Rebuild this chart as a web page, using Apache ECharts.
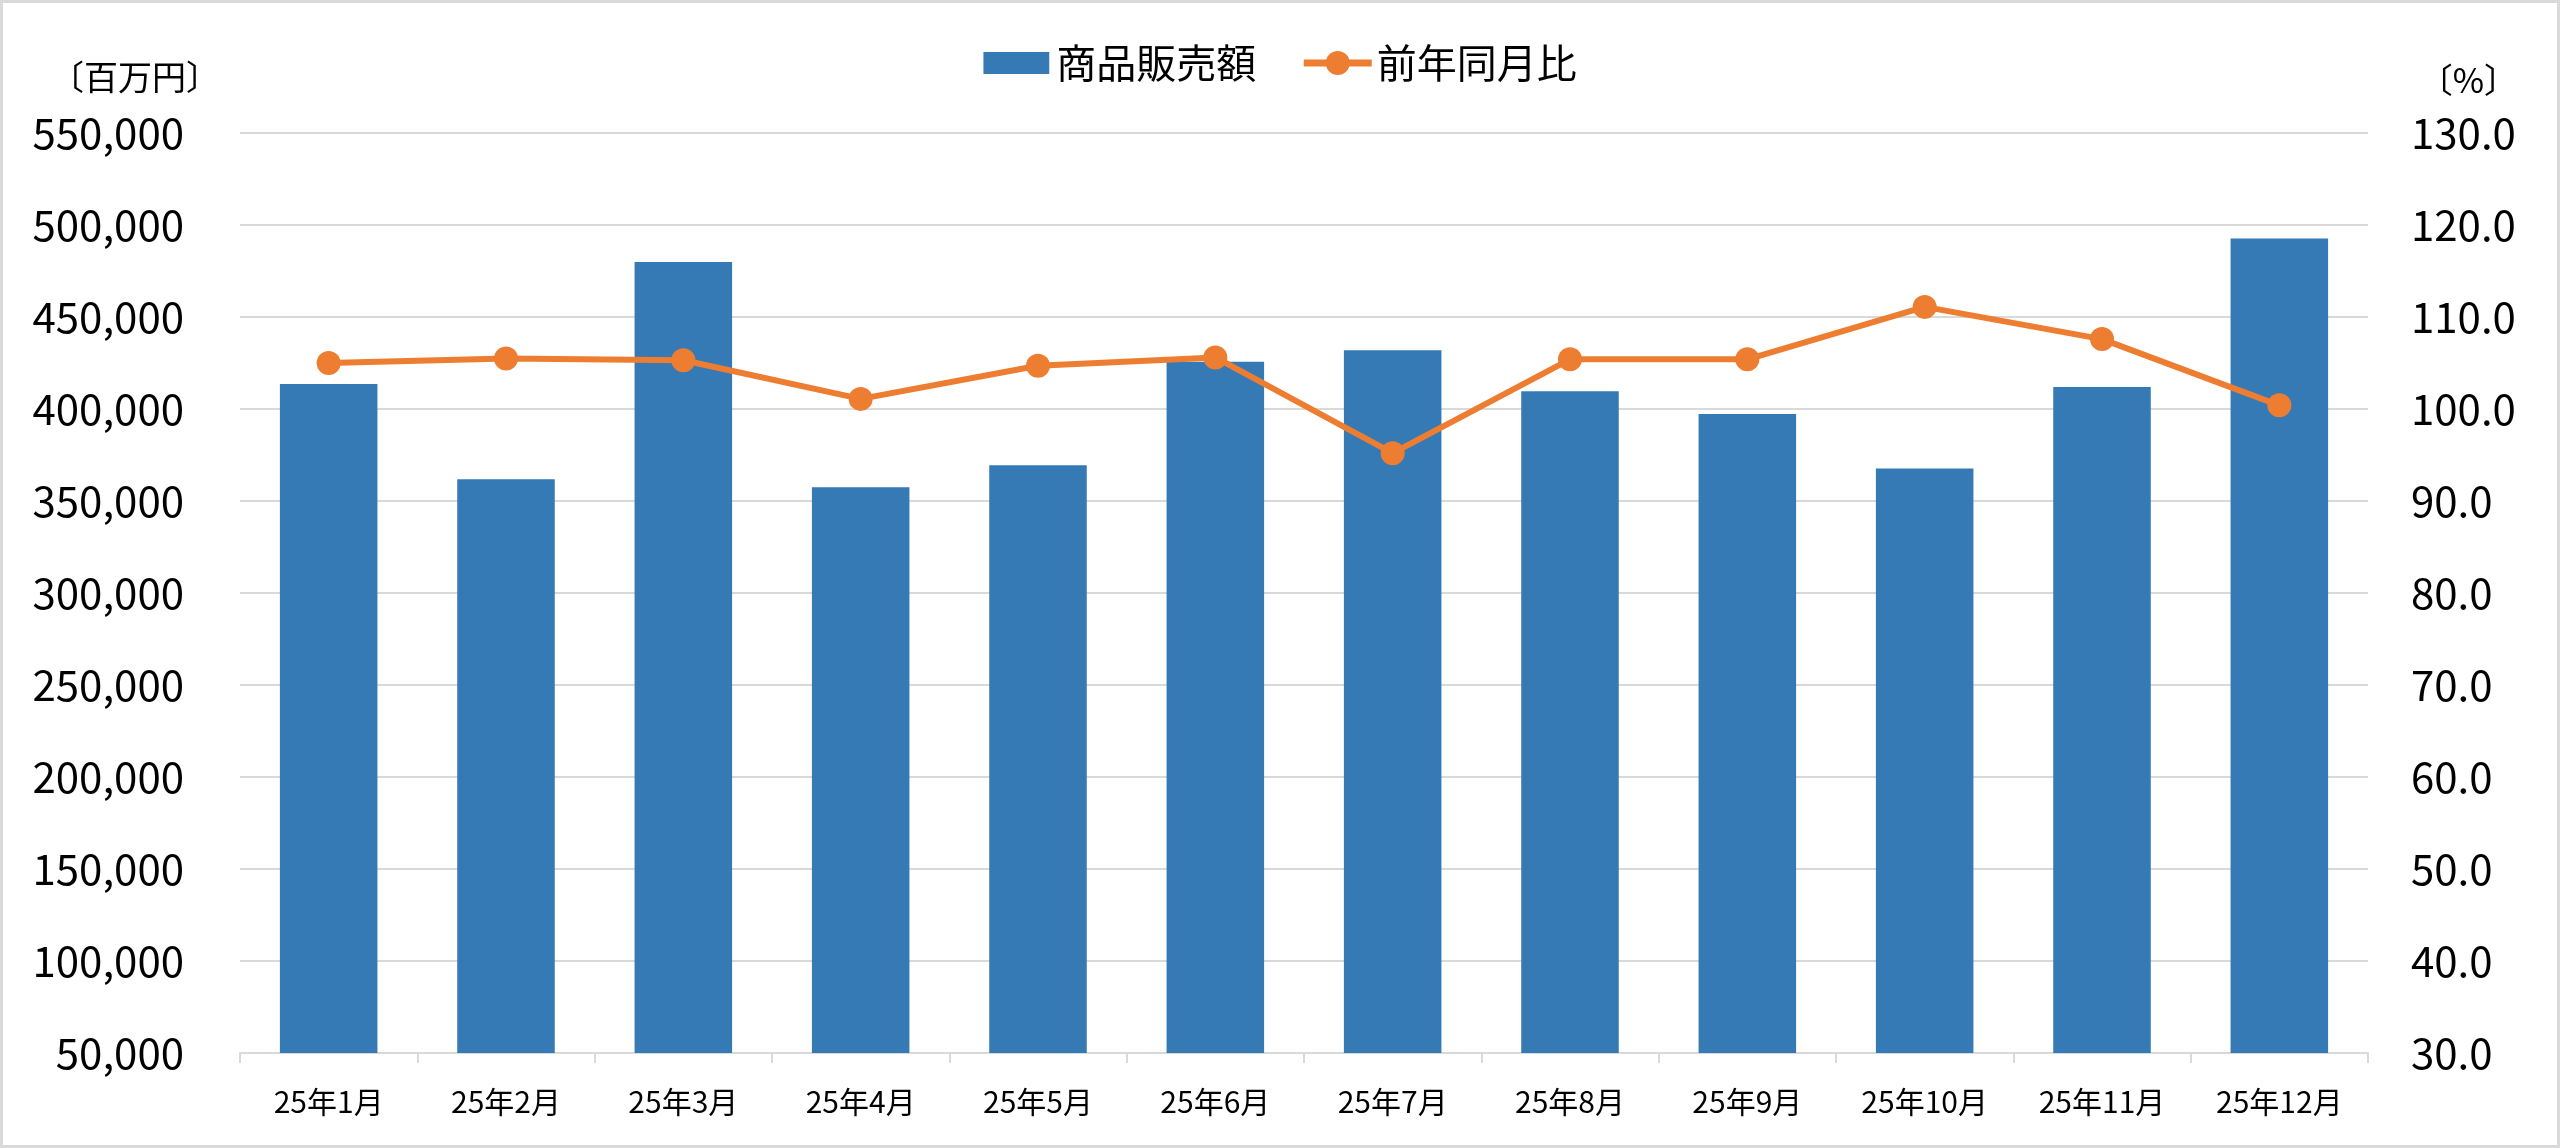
<!DOCTYPE html>
<html>
<head>
<meta charset="utf-8">
<script src="https://cdn.jsdelivr.net/npm/echarts@6/dist/echarts.min.js"></script>
<style>
  html, body { margin: 0; padding: 0; background: #fff; }
  #wrap { position: relative; width: 2560px; height: 1148px; }
  #main { width: 2560px; height: 1148px; }
  #frame { position: absolute; left: 0; top: 0; width: 2560px; height: 1148px;
    box-sizing: border-box; border: 3px solid #d9d9d9; pointer-events: none; }
</style>
</head>
<body>
<div id="wrap">
  <div id="main"></div>
  <div id="frame"></div>
</div>
<script>
  // 月
  const months = ["25年1月", "25年2月", "25年3月", "25年4月", "25年5月", "25年6月",
    "25年7月", "25年8月", "25年9月", "25年10月", "25年11月", "25年12月"];
  // 商品販売額（百万円）
  const sales = [413600, 361800, 479900, 357500, 369400, 425700,
    431900, 409600, 397300, 367600, 412000, 492600];
  // 前年同月比（%）
  const yoy = [105.0, 105.5, 105.3, 101.1, 104.7, 105.6,
    95.2, 105.4, 105.4, 111.1, 107.6, 100.4];

  const font = "'Noto Sans CJK JP', 'Noto Sans', sans-serif";
  const gridColor = "#d9d9d9";
  const barColor = "#367ab5";
  const lineColor = "#ed7d31";

  // 凡例の棒アイコン（高さを線アイコンより低くする）
  const barIcon = "image://data:image/svg+xml;charset=utf-8," + encodeURIComponent(
    '<svg xmlns="http://www.w3.org/2000/svg" width="68" height="30">' +
    '<rect x="0" y="4" width="66" height="22" fill="' + barColor + '"/></svg>');

  const chart = echarts.init(document.getElementById("main"));

  const option = {
    animation: false,
    textStyle: { fontFamily: font, color: "#000" },
    legend: {
      top: 38,
      left: "center",
      itemWidth: 68,
      itemHeight: 30,
      itemGap: 44,
      textStyle: { fontSize: 40, color: "#000", fontFamily: font },
      lineStyle: { width: 7 },
      data: [
        { name: "商品販売額", icon: barIcon },
        { name: "前年同月比" }
      ]
    },
    graphic: [
      {
        type: "text", left: 50, top: 60,
        style: { text: "〔百万円〕", fontSize: 34, fontFamily: font, fill: "#000" }
      },
      {
        type: "text", right: 42, top: 63,
        style: { text: "〔%〕", fontSize: 34, fontFamily: font, fill: "#000" }
      }
    ],
    grid: { left: 240, right: 192, top: 133, bottom: 95 },
    xAxis: {
      type: "category",
      data: months,
      axisLine: { lineStyle: { color: gridColor, width: 2 } },
      axisTick: { show: true, length: 10, lineStyle: { color: gridColor, width: 2 } },
      axisLabel: { fontSize: 30, color: "#000", margin: 34, fontFamily: font }
    },
    yAxis: [
      {
        type: "value",
        min: 50000, max: 550000, interval: 50000,
        axisLine: { show: false },
        axisTick: { show: false },
        splitLine: { lineStyle: { color: gridColor, width: 2 } },
        axisLabel: {
          fontSize: 42, color: "#000", margin: 56, fontFamily: font,
          formatter: v => v.toLocaleString("en-US")
        }
      },
      {
        type: "value",
        min: 30, max: 130, interval: 10,
        axisLine: { show: false },
        axisTick: { show: false },
        splitLine: { show: false },
        axisLabel: {
          fontSize: 42, color: "#000", margin: 43, fontFamily: font,
          formatter: v => v.toFixed(1)
        }
      }
    ],
    series: [
      {
        name: "商品販売額",
        type: "bar",
        data: sales,
        barWidth: "55%",
        itemStyle: { color: barColor }
      },
      {
        name: "前年同月比",
        type: "line",
        yAxisIndex: 1,
        data: yoy,
        symbol: "circle",
        symbolSize: 24,
        lineStyle: { color: lineColor, width: 6 },
        itemStyle: { color: lineColor }
      }
    ]
  };

  chart.setOption(option);
</script>
</body>
</html>
